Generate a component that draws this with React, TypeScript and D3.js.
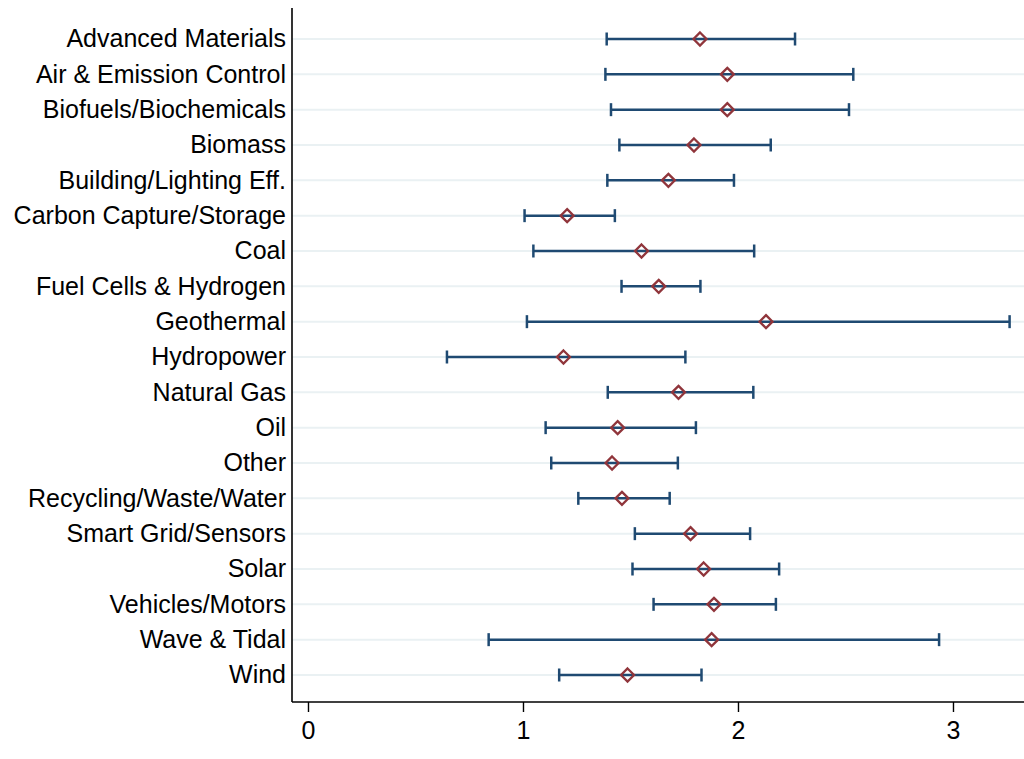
import React from 'react';
import * as d3 from 'd3';

const categories = [
  'Advanced Materials', 'Air & Emission Control', 'Biofuels/Biochemicals', 'Biomass',
  'Building/Lighting Eff.', 'Carbon Capture/Storage', 'Coal', 'Fuel Cells & Hydrogen',
  'Geothermal', 'Hydropower', 'Natural Gas', 'Oil', 'Other', 'Recycling/Waste/Water',
  'Smart Grid/Sensors', 'Solar', 'Vehicles/Motors', 'Wave & Tidal', 'Wind',
];
const means = [1.821, 1.948, 1.948, 1.793, 1.674, 1.203, 1.549, 1.629, 2.128, 1.186,
  1.721, 1.438, 1.412, 1.458, 1.777, 1.838, 1.886, 1.875, 1.484];
const lower = [1.387, 1.381, 1.407, 1.446, 1.390, 1.005, 1.046, 1.456, 1.016, 0.644,
  1.392, 1.103, 1.129, 1.255, 1.518, 1.507, 1.605, 0.838, 1.166];
const upper = [2.263, 2.534, 2.514, 2.150, 1.979, 1.425, 2.073, 1.823, 3.261, 1.753,
  2.069, 1.802, 1.718, 1.680, 2.054, 2.189, 2.174, 2.933, 1.828];
const xTicks = [0, 1, 2, 3];

const W = 1024, H = 759;
const left = 292, right = 1024, top = 8, bottom = 702;

export default function App() {
  const x = d3.scaleLinear().domain([-0.0767, 3.328]).range([left, right]);
  const y = d3.scalePoint<string>().domain(categories).range([39, 675]);
  const navy = '#1f4a72';
  const maroon = '#90353b';
  const cap = 6.5;

  return (
    <svg width={W} height={H} style={{ position: 'absolute', left: 0, top: 0, background: '#fff' }}
      fontFamily="'Liberation Sans', Arial, sans-serif">
      {categories.map(c => (
        <line key={'g' + c} x1={left} x2={right} y1={y(c)} y2={y(c)} stroke="#eaf1f3" strokeWidth={2} />
      ))}
      {categories.map((c, i) => {
        const yy = y(c)!;
        const d = 6.5;
        const cx = x(means[i]);
        return (
          <g key={c}>
            <line x1={x(lower[i])} x2={x(upper[i])} y1={yy} y2={yy} stroke={navy} strokeWidth={2.5} />
            <line x1={x(lower[i])} x2={x(lower[i])} y1={yy - cap} y2={yy + cap} stroke={navy} strokeWidth={2.5} />
            <line x1={x(upper[i])} x2={x(upper[i])} y1={yy - cap} y2={yy + cap} stroke={navy} strokeWidth={2.5} />
            <path d={`M${cx},${yy - d}L${cx + d},${yy}L${cx},${yy + d}L${cx - d},${yy}Z`}
              fill="none" stroke={maroon} strokeWidth={2.3} />
            <text x={286} y={yy} dy="0.33em" textAnchor="end" fontSize={25} fill="#000">{c}</text>
          </g>
        );
      })}
      <line x1={left} x2={left} y1={top} y2={bottom} stroke="#000" strokeWidth={1.6} />
      <line x1={left} x2={right} y1={bottom} y2={bottom} stroke="#000" strokeWidth={1.6} />
      {xTicks.map(t => (
        <g key={t}>
          <line x1={x(t)} x2={x(t)} y1={bottom} y2={bottom + 10} stroke="#000" strokeWidth={1.4} />
          <text x={x(t)} y={739} textAnchor="middle" fontSize={25} fill="#000">{t}</text>
        </g>
      ))}
    </svg>
  );
}
